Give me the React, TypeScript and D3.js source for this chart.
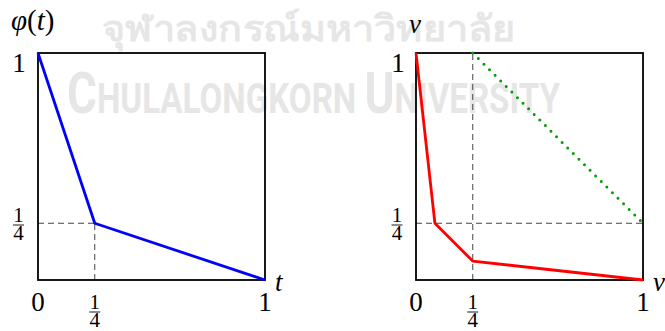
import React from "react";
import * as d3 from "d3";

const W = 665;
const H = 331;

// left panel: phi(t)
const phiPoints: [number, number][] = [
  [0, 1],
  [0.25, 0.25],
  [1, 0],
];
// right panel: red curve and green dotted line
const redPoints: [number, number][] = [
  [0, 1],
  [1 / 12, 0.25],
  [0.25, 1 / 12],
  [1, 0],
];
const greenPoints: [number, number][] = [
  [0.25, 1],
  [1, 0.25],
];
const quarter = 0.25;

const FONT = '"Liberation Serif", "Times New Roman", monospace';

function Label(props: React.SVGProps<SVGTextElement>) {
  return <text {...props} fontFamily={FONT} style={{ fontFamily: FONT }} />;
}

function Frac({ x, y, size }: { x: number; y: number; size: number }) {
  // y is the fraction bar position
  return (
    <g fontSize={size} textAnchor="middle">
      <Label x={x} y={y - 3}>1</Label>
      <line x1={x - 5.5} x2={x + 5.5} y1={y} y2={y} stroke="#000" strokeWidth={0.9} />
      <Label x={x} y={y + 15}>4</Label>
    </g>
  );
}

export default function App() {
  const yS = d3.scaleLinear().domain([0, 1]).range([280, 53]);
  const xL = d3.scaleLinear().domain([0, 1]).range([38, 265]);
  const xR = d3.scaleLinear().domain([0, 1]).range([416, 643]);

  const lineL = d3
    .line<[number, number]>()
    .x((d) => xL(d[0]))
    .y((d) => yS(d[1]));
  const lineR = d3
    .line<[number, number]>()
    .x((d) => xR(d[0]))
    .y((d) => yS(d[1]));

  const dash = { stroke: "#444", strokeWidth: 1, strokeDasharray: "6,4", fill: "none" };

  return (
    <svg
      width={W}
      height={H}
      style={{ position: "absolute", left: 0, top: 0, background: "#fff" }}
    >
      {/* watermark */}
      <g fill="#e6e6e6" fontWeight="bold">
        <text
          x={102}
          y={41}
          fontSize={36}
          style={{ fontFamily: '"Noto Sans", sans-serif' }}
          textLength={413}
          lengthAdjust="spacingAndGlyphs"
        >
          จุฬาลงกรณ์มหาวิทยาลัย
        </text>
        <text
          x={67}
          y={113}
          style={{ fontFamily: '"Roboto", sans-serif' }}
          textLength={493}
          lengthAdjust="spacingAndGlyphs"
        >
          <tspan fontSize={58}>C</tspan>
          <tspan fontSize={42}>HULALONGKORN </tspan>
          <tspan fontSize={58}>U</tspan>
          <tspan fontSize={42}>NIVERSITY</tspan>
        </text>
      </g>

      {/* left panel */}
      <line x1={xL(0)} x2={xL(quarter)} y1={yS(quarter)} y2={yS(quarter)} {...dash} />
      <line x1={xL(quarter)} x2={xL(quarter)} y1={yS(0)} y2={yS(quarter)} {...dash} />
      <rect
        x={xL(0)}
        y={yS(1)}
        width={xL(1) - xL(0)}
        height={yS(0) - yS(1)}
        fill="none"
        stroke="#000"
        strokeWidth={1.8}
      />
      <path d={lineL(phiPoints) ?? ""} fill="none" stroke="#0000ff" strokeWidth={2.8} strokeLinejoin="round" />

      {/* right panel */}
      <line x1={xR(0)} x2={xR(1)} y1={yS(quarter)} y2={yS(quarter)} {...dash} />
      <line x1={xR(quarter)} x2={xR(quarter)} y1={yS(0)} y2={yS(1)} {...dash} />
      <rect
        x={xR(0)}
        y={yS(1)}
        width={xR(1) - xR(0)}
        height={yS(0) - yS(1)}
        fill="none"
        stroke="#000"
        strokeWidth={1.8}
      />
      <path
        d={lineR(greenPoints) ?? ""}
        fill="none"
        stroke="#00a000"
        strokeWidth={3}
        strokeLinecap="round"
        strokeDasharray="0,7.9"
      />
      <path d={lineR(redPoints) ?? ""} fill="none" stroke="#ff0000" strokeWidth={2.8} strokeLinejoin="round" />

      {/* labels left */}
      <g fontSize={27} fill="#000">
        <Label x={11} y={30} fontSize={29}>
          <tspan fontStyle="italic">φ</tspan>(<tspan fontStyle="italic">t</tspan>)
        </Label>
        <Label x={19} y={72} textAnchor="middle">1</Label>
        <Label x={xL(0)} y={311} textAnchor="middle">0</Label>
        <Label x={xL(1)} y={311} textAnchor="middle">1</Label>
        <Label x={275} y={291} fontStyle="italic">t</Label>
      </g>
      <Frac x={18.5} y={225} size={21} />
      <Frac x={xL(quarter)} y={312} size={21} />

      {/* labels right */}
      <g fontSize={27} fill="#000">
        <Label x={409} y={33} fontStyle="italic">v</Label>
        <Label x={398} y={72} textAnchor="middle">1</Label>
        <Label x={xR(0)} y={311} textAnchor="middle">0</Label>
        <Label x={xR(1)} y={311} textAnchor="middle">1</Label>
        <Label x={653} y={291} fontStyle="italic">v</Label>
      </g>
      <Frac x={397} y={225} size={21} />
      <Frac x={xR(quarter)} y={312} size={21} />
    </svg>
  );
}
